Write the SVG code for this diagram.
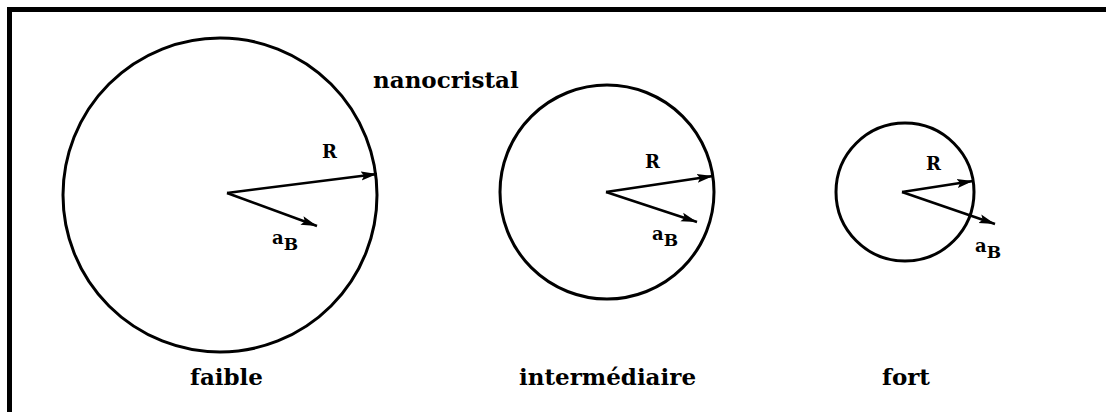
<svg xmlns="http://www.w3.org/2000/svg" width="1106" height="412" viewBox="0 0 1106 412">
<defs>
<marker id="ah" viewBox="0 0 16 10" refX="16" refY="5" markerWidth="16" markerHeight="10" markerUnits="userSpaceOnUse" orient="auto">
<path d="M0,0.5 L16,5 L0,9.5 L3,5 z" fill="#000"/>
</marker>
</defs>
<style>
.c{fill:none;stroke:#000;stroke-width:3}
.a{stroke:#000;stroke-width:2.5;fill:none;marker-end:url(#ah)}
text{font-family:"DejaVu Serif","Liberation Serif",serif;font-weight:bold;fill:#000}
.l{font-size:23px}
.s{font-size:18px}
.b{font-size:17px}
</style>
<rect x="0" y="0" width="1106" height="412" fill="#fff"/>
<path d="M9.5,420 V9.5 H1120" fill="none" stroke="#000" stroke-width="5"/>
<g id="weak">
<circle class="c" cx="220" cy="195" r="157"/>
</g>
<g id="intermediate">
<circle class="c" cx="607" cy="192" r="107"/>
</g>
<g id="strong">
<circle class="c" cx="905" cy="192" r="69"/>
</g>
<g id="connectors">
<line class="a" x1="227" y1="193" x2="377" y2="174"/>
<line class="a" x1="227" y1="193" x2="317" y2="226"/>
<line class="a" x1="606" y1="192" x2="713" y2="176"/>
<line class="a" x1="606" y1="192" x2="697" y2="222"/>
<line class="a" x1="902" y1="192" x2="973" y2="181"/>
<line class="a" x1="902" y1="192" x2="995" y2="224"/>
</g>
<g id="labels">
<text class="l" x="373" y="88">nanocristal</text>
<text class="s" x="322" y="158">R</text>
<text class="s" x="272" y="244">a<tspan class="b" dy="6">B</tspan></text>
<text class="s" x="645" y="168">R</text>
<text class="s" x="652" y="240">a<tspan class="b" dy="6">B</tspan></text>
<text class="s" x="926" y="170">R</text>
<text class="s" x="975" y="252">a<tspan class="b" dy="6">B</tspan></text>
<text class="l" x="190" y="385">faible</text>
<text class="l" x="519" y="385">intermédiaire</text>
<text class="l" x="882" y="385">fort</text>
</g>
</svg>
